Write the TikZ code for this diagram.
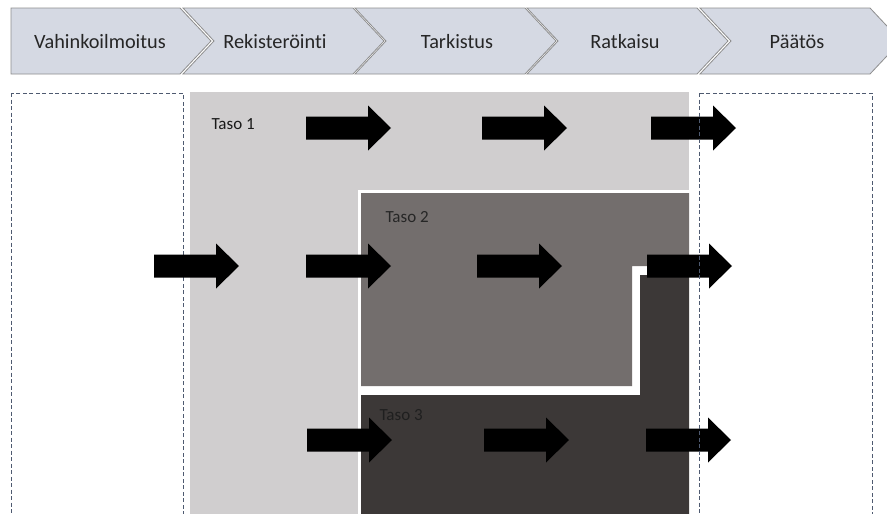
\documentclass[tikz,border=0pt]{standalone}
\usepackage{fontspec}
\setmainfont{Carlito}[Ligatures={NoCommon}]
\definecolor{chevfill}{HTML}{D5D9E3}
\definecolor{chevline}{HTML}{8E8E8E}
\definecolor{lvl1}{HTML}{D0CECF}
\definecolor{lvl2}{HTML}{736E6D}
\definecolor{lvl3}{HTML}{3C3837}
\definecolor{dashcol}{HTML}{4E5A70}
\begin{document}
\begin{tikzpicture}[x=1pt,y=-1pt,
  chev/.style={fill=chevfill,draw=chevline,line width=0.8pt},
  chevtext/.style={anchor=base,font=\fontsize{20.3}{24}\selectfont,text=black!85},
  tasotext/.style={anchor=base west,font=\fontsize{17}{20}\selectfont},
  dashbox/.style={draw=dashcol,line width=1pt,dash pattern=on 4pt off 2.5pt},
  blockarrow/.pic={\fill[black] (0,-11.5)--(62,-11.5)--(62,-22.5)--(85,0)--(62,22.5)--(62,11.5)--(0,11.5)--cycle;}]
\useasboundingbox (0,0) rectangle (887,514);
\clip (0,0) rectangle (887,514);
\fill[white] (0,0) rectangle (887,514);
% chevrons
\draw[chev] (11,8) -- (180,8) -- (211,41) -- (180,74) -- (11,74) -- cycle;
\foreach \xa in {183,355,527,700}{
  \draw[chev] (\xa,8) -- (\xa+170,8) -- (\xa+201,41) -- (\xa+170,74) -- (\xa,74) -- (\xa+31,41) -- cycle;
}
\node[chevtext] (c1) at (100,48) {Vahinkoilmoitus};
\node[chevtext] (c2) at (275,48) {Rekisteröinti};
\node[chevtext] (c3) at (457,48) {Tarkistus};
\node[chevtext] (c4) at (625,48) {Ratkaisu};
\node[chevtext] (c5) at (797,48) {Päätös};
% levels
\fill[lvl1] (190,92) rectangle (689,520);
\fill[white] (358,190) rectangle (689,520);
\fill[lvl2] (361,193) -- (689,193) -- (689,266) -- (632,266) -- (632,386) -- (361,386) -- cycle;
\fill[lvl3] (361,395) -- (640,395) -- (640,275) -- (689,275) -- (689,520) -- (361,520) -- cycle;
\node[tasotext,text=black!90] (t1) at (208,129) {Taso 1};
\node[tasotext,text=black!85] (t2) at (382,222) {Taso 2};
\node[tasotext,text=black!88] (t3) at (376,420) {Taso 3};
% left dashed box
\draw[dashbox] (11,93) rectangle (183,530);
% arrows
\pic at (306,128) {blockarrow};
\pic at (482,128) {blockarrow};
\pic at (651,128) {blockarrow};
\pic at (154,266) {blockarrow};
\pic at (306,266) {blockarrow};
\pic at (477,266) {blockarrow};
\pic at (647,266) {blockarrow};
\pic at (307,440) {blockarrow};
\pic at (484,440) {blockarrow};
\pic at (646,440) {blockarrow};
% right dashed box
\draw[dashbox] (699,93) rectangle (872,530);
\end{tikzpicture}
\end{document}
